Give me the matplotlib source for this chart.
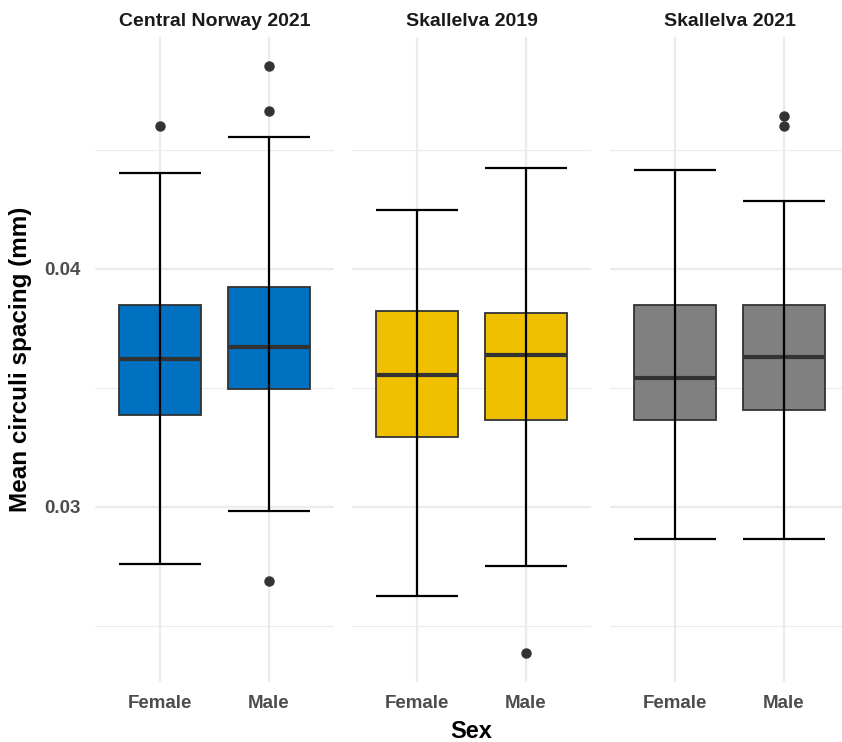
import matplotlib
matplotlib.use("Agg")
import matplotlib.pyplot as plt

plt.rcParams['font.family'] = ['Liberation Sans', 'DejaVu Sans']

# facets and groups
panels = ["Central Norway 2021", "Skallelva 2019", "Skallelva 2021"]
sexes = ["Female", "Male"]
fills = ["#0070C0", "#F0C000", "#808080"]

# box stats: [lower whisker, Q1, median, Q3, upper whisker]
stats_female = [
    [0.02760, 0.03387, 0.03622, 0.03849, 0.04403],
    [0.02626, 0.03294, 0.03555, 0.03824, 0.04248],
    [0.02866, 0.03366, 0.03542, 0.03849, 0.04416],
]
stats_male = [
    [0.02983, 0.03496, 0.03672, 0.03924, 0.04555],
    [0.02752, 0.03366, 0.03639, 0.03815, 0.04424],
    [0.02866, 0.03408, 0.03630, 0.03849, 0.04286],
]
outliers_female = [[0.04601], [], []]
outliers_male = [[0.04853, 0.04664, 0.02689], [0.02387], [0.04643, 0.04601]]

all_vals = [v for s in stats_female + stats_male for v in s]
all_vals += [v for o in outliers_female + outliers_male for v in o]
lo, hi = min(all_vals), max(all_vals)
pad = (hi - lo) * 0.05
ylim = (lo - pad, hi + pad)

fig = plt.figure(figsize=(8.42, 7.42), dpi=100)
W, H = 842, 742
panel_left = [94.6, 351.6, 609.6]
panel_w = 239.8
top_px, bot_px = 36.7, 682

grid_col = "#EBEBEB"
for i, name in enumerate(panels):
    ax = fig.add_axes([panel_left[i] / W, 1 - bot_px / H, panel_w / W, (bot_px - top_px) / H])
    stats = []
    for s, flier in ((stats_female[i], outliers_female[i]), (stats_male[i], outliers_male[i])):
        stats.append(dict(whislo=s[0], q1=s[1], med=s[2], q3=s[3], whishi=s[4], fliers=flier))
    ax.bxp(stats, positions=[1, 2], widths=0.75, patch_artist=True, showcaps=False,
           boxprops=dict(facecolor=fills[i], edgecolor="#333333", linewidth=1.3),
           medianprops=dict(color="#333333", linewidth=3),
           whiskerprops=dict(linewidth=0),
           flierprops=dict(marker="o", markerfacecolor="#333333", markeredgecolor="#333333",
                           markersize=6.5),
           zorder=2)
    for x, s in zip([1, 2], [stats_female[i], stats_male[i]]):
        ax.vlines(x, s[0], s[4], color="black", linewidth=1.6, zorder=4)
        ax.hlines([s[0], s[4]], x - 0.375, x + 0.375, color="black", linewidth=1.6, zorder=4)

    ax.set_xlim(0.4, 2.6)
    ax.set_ylim(*ylim)
    ax.set_xticks([1, 2])
    ax.set_xticklabels(sexes)
    ax.set_yticks([0.03, 0.04])
    ax.set_yticks([0.025, 0.035, 0.045], minor=True)
    ax.grid(True, which="major", color=grid_col, linewidth=1.6, zorder=0)
    ax.grid(True, which="minor", axis="y", color=grid_col, linewidth=0.8, zorder=0)
    ax.set_axisbelow(True)
    for sp in ax.spines.values():
        sp.set_visible(False)
    ax.tick_params(axis="both", which="both", length=0, labelsize=13.5, labelcolor="#4D4D4D")
    ax.tick_params(axis="x", pad=9)
    ax.tick_params(axis="y", pad=10)
    for lab in ax.get_xticklabels() + ax.get_yticklabels():
        lab.set_fontweight("bold")
    if i > 0:
        ax.set_yticklabels([])
    else:
        ax.set_ylabel("Mean circuli spacing (mm)", fontsize=17.5, fontweight="bold", labelpad=9)
    if i == 1:
        ax.set_xlabel("Sex", fontsize=17, fontweight="bold", labelpad=6)
    ax.set_title(name, fontsize=14, fontweight="bold", color="#1A1A1A", pad=8)

fig.savefig("out.png", dpi=100, facecolor="white")
